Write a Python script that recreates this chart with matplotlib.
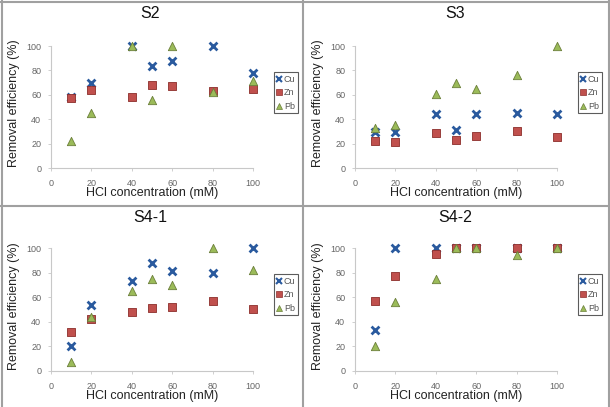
import matplotlib
matplotlib.use("Agg")
import matplotlib.pyplot as plt
from matplotlib.lines import Line2D

plt.rcParams['font.family'] = ['Liberation Sans', 'DejaVu Sans']

conc = [10, 20, 40, 50, 60, 80, 100]
titles = ["S2", "S3", "S4-1", "S4-2"]

cu_s2 = [58, 70, 100, 84, 88, 100, 78]
zn_s2 = [57, 64, 58, 68, 67, 63, 65]
pb_s2 = [22, 45, 100, 56, 100, 62, 71]

cu_s3 = [29.5, 29.5, 44, 31.5, 44, 45, 44]
zn_s3 = [22, 21.5, 28.5, 23, 26, 30, 25.5]
pb_s3 = [33, 35, 61, 70, 64.5, 76, 100]

cu_s41 = [20, 54, 73, 87.5, 81, 80, 100]
zn_s41 = [32, 42, 48, 51.5, 52, 57, 50.5]
pb_s41 = [7, 44, 65, 75, 70, 100, 82]

cu_s42 = [33, 100, 100, 100, 100, 100, 100]
zn_s42 = [57, 77, 95, 100, 100, 100, 100]
pb_s42 = [20, 56, 75, 100, 100, 94, 100]

series_labels = ["Cu", "Zn", "Pb"]
xticks = [0, 20, 40, 60, 80, 100]
yticks = [0, 20, 40, 60, 80, 100]

panels = [
    (cu_s2, zn_s2, pb_s2),
    (cu_s3, zn_s3, pb_s3),
    (cu_s41, zn_s41, pb_s41),
    (cu_s42, zn_s42, pb_s42),
]

W, H = 610, 407
fig = plt.figure(figsize=(W / 100, H / 100), dpi=100)
fig.patch.set_facecolor("white")

geo = [
    (51, 253, 168, 46, 150, 14, (274, 72)),
    (355, 557, 168, 46, 455, 14, (578, 72)),
    (51, 253, 371, 248, 150, 218, (274, 274)),
    (355, 557, 371, 248, 455, 218, (578, 274)),
]

cu_col = "#2A5A9E"
zn_col = "#C0504D"
zn_edge = "#8C2E2B"
pb_col = "#9BBB59"
pb_edge = "#6B7F3A"

for (cu, zn, pb), title, (x0, x1, y0, y1, tx, ty, (lx, ly)) in zip(panels, titles, geo):
    aw, ah = x1 - x0, y0 - y1
    ax = fig.add_axes([x0 / W, (H - y0) / H, aw / W, ah / H])
    ax.set_xlim(0, 100)
    ax.set_ylim(0, 100)
    ax.scatter(conc, cu, marker="x", s=32, c=cu_col, linewidths=2.0, clip_on=False, zorder=3)
    ax.scatter(conc, zn, marker="s", s=36, c=zn_col, edgecolors=zn_edge, linewidths=0.6, clip_on=False, zorder=4)
    ax.scatter(conc, pb, marker="^", s=36, c=pb_col, edgecolors=pb_edge, linewidths=0.6, clip_on=False, zorder=5)
    for s in ["top", "right"]:
        ax.spines[s].set_visible(False)
    for s in ["left", "bottom"]:
        ax.spines[s].set_color("#C8C8C8")
        ax.spines[s].set_linewidth(0.8)
    ax.set_xticks(xticks)
    ax.set_yticks(yticks)
    ax.tick_params(axis="both", labelsize=6.5, colors="#C8C8C8", labelcolor="#666666", length=2, width=0.6)
    ax.tick_params(axis="x", pad=6)
    ax.tick_params(axis="y", pad=5)
    ax.set_xlabel("HCl concentration (mM)", fontsize=9, color="#222222")
    ax.set_ylabel("Removal efficiency (%)", fontsize=9, color="#222222")
    # ylabel: right edge ~31 px left of the y axis, centred ~57 px above the x axis
    ax.yaxis.set_label_coords(-31 / aw, 0.53)
    # xlabel: top ~19 px below the x axis
    ax.xaxis.set_label_coords(0.5, -19 / ah)
    fig.text(tx / W, 1 - ty / H, title, ha="center", va="center", fontsize=11.5, color="#111111")

    handles = [
        Line2D([], [], marker="x", ls="", color=cu_col, markersize=4, markeredgewidth=1.5),
        Line2D([], [], marker="s", ls="", color=zn_col, markeredgecolor=zn_edge, markersize=4, markeredgewidth=0.5),
        Line2D([], [], marker="^", ls="", color=pb_col, markeredgecolor=pb_edge, markersize=4, markeredgewidth=0.5),
    ]
    leg = fig.legend(handles, series_labels, loc="upper left",
                     bbox_to_anchor=(lx / W, 1 - ly / H),
                     fontsize=6.5, frameon=True, fancybox=False,
                     handlelength=0.6, handletextpad=0.2, borderpad=0.3,
                     labelspacing=0.5, borderaxespad=0)
    leg.get_frame().set_edgecolor("#333333")
    leg.get_frame().set_linewidth(0.8)
    for t in leg.get_texts():
        t.set_color("#555555")

border = "#A0A0A0"
fig.add_artist(Line2D([0, 1], [1 - 206 / H, 1 - 206 / H], transform=fig.transFigure, color=border, lw=1.5))
fig.add_artist(Line2D([303 / W, 303 / W], [0, 1], transform=fig.transFigure, color=border, lw=1.5))
fig.add_artist(Line2D([0, 1], [1 - 2 / H, 1 - 2 / H], transform=fig.transFigure, color=border, lw=1.5))
fig.add_artist(Line2D([1.5 / W, 1.5 / W], [0, 1], transform=fig.transFigure, color=border, lw=1.5))
fig.add_artist(Line2D([608.5 / W, 608.5 / W], [0, 1], transform=fig.transFigure, color=border, lw=1.5))

fig.savefig("out.png", dpi=100, facecolor="white")
